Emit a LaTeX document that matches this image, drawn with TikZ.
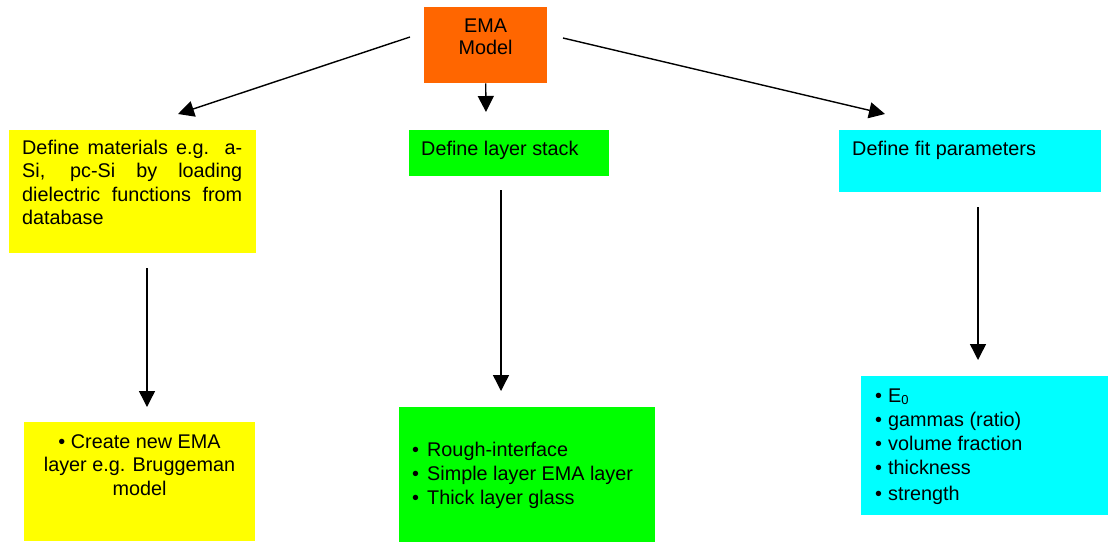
\documentclass[tikz,border=0pt]{standalone}
\usepackage{fontspec}
\setmainfont{Liberation Sans}
\usetikzlibrary{arrows.meta,calc}
\definecolor{emaorange}{HTML}{FF6600}
\definecolor{boxyellow}{HTML}{FFFF00}
\definecolor{boxgreen}{HTML}{00FF00}
\definecolor{boxcyan}{HTML}{00FFFF}
\tikzset{
  boxnode/.style={draw=none, rectangle, inner sep=0pt, anchor=north west},
  lbl/.style={inner sep=0pt, anchor=base west, font=\fontsize{19.8}{23.5}\selectfont},
  conn/.style={line width=1.4pt, -{Triangle[length=16pt,width=16pt]}}
}
\newcommand{\bl}[2]{\makebox[#1][l]{•}#2}
\begin{document}
\begin{tikzpicture}[x=1pt,y=-1pt]
\useasboundingbox (0,0) rectangle (1108,542);
% boxes
\node[boxnode, fill=emaorange, minimum width=123pt, minimum height=76pt] (ema) at (424,7) {};
\node[boxnode, fill=boxyellow, minimum width=247pt, minimum height=123pt] (ya) at (9,130) {};
\node[boxnode, fill=boxgreen, minimum width=200pt, minimum height=46pt] (ga) at (409,130) {};
\node[boxnode, fill=boxcyan, minimum width=262pt, minimum height=62pt] (ca) at (839,130) {};
\node[boxnode, fill=boxyellow, minimum width=231pt, minimum height=119pt] (yb) at (24,422) {};
\node[boxnode, fill=boxgreen, minimum width=256pt, minimum height=135pt] (gb) at (399,407) {};
\node[boxnode, fill=boxcyan, minimum width=247pt, minimum height=139pt] (cb) at (861,376) {};
% texts
\node[lbl, anchor=base] (emaT) at (485.5,32) {\parbox[t]{120pt}{\centering EMA\\[-1.5pt]Model}};
\node[lbl] (yaT) at (22,154) {\parbox[t]{220pt}{%
  \makebox[220pt][s]{Define materials e.g. a-}\\
  \makebox[220pt][s]{Si, pc-Si by loading}\\
  \makebox[220pt][s]{dielectric functions from}\\
  database}};
\node[lbl] (gaT) at (421,155) {Define layer stack};
\node[lbl] (caT) at (852,155) {Define fit parameters};
\node[lbl, anchor=base] (ybT) at (139.5,448) {\parbox[t]{231pt}{\centering • Create new EMA\\layer e.g. Bruggeman\\model}};
\node[lbl] (gbT) at (412,456) {\parbox[t]{240pt}{%
  \bl{15pt}{Rough-interface}\\[0.5pt]
  \bl{15pt}{Simple layer EMA layer}\\[0.5pt]
  \bl{15pt}{Thick layer glass}}};
\node[lbl] (cbT) at (875,402) {\parbox[t]{230pt}{%
  \bl{13pt}{E\raisebox{-2.5pt}{\fontsize{13}{13}\selectfont 0}}\\[0.5pt]
  \bl{13pt}{gammas (ratio)}\\[1pt]
  \bl{13pt}{volume fraction}\\[0.5pt]
  \bl{13pt}{thickness}\\[2pt]
  \bl{13pt}{strength}}};
% connector ends
\coordinate (s1) at (410,37);
\coordinate (e1) at (178,114);
\coordinate (s3) at (563,38);
\coordinate (e3) at (885,114);
\coordinate (e2) at (486,112);
\coordinate (sy) at (147,268);
\coordinate (ey) at (147,407);
\coordinate (sg) at (501,190);
\coordinate (eg) at (501,391);
\coordinate (sc) at (978,207);
\coordinate (ec) at (978,360);
% connectors
\draw[conn] (s1) -- (e1);
\draw[conn] (ema.south) -- (e2);
\draw[conn] (s3) -- (e3);
\draw[conn] (sy) -- (ey);
\draw[conn] (sg) -- (eg);
\draw[conn] (sc) -- (ec);
\end{tikzpicture}
\end{document}
